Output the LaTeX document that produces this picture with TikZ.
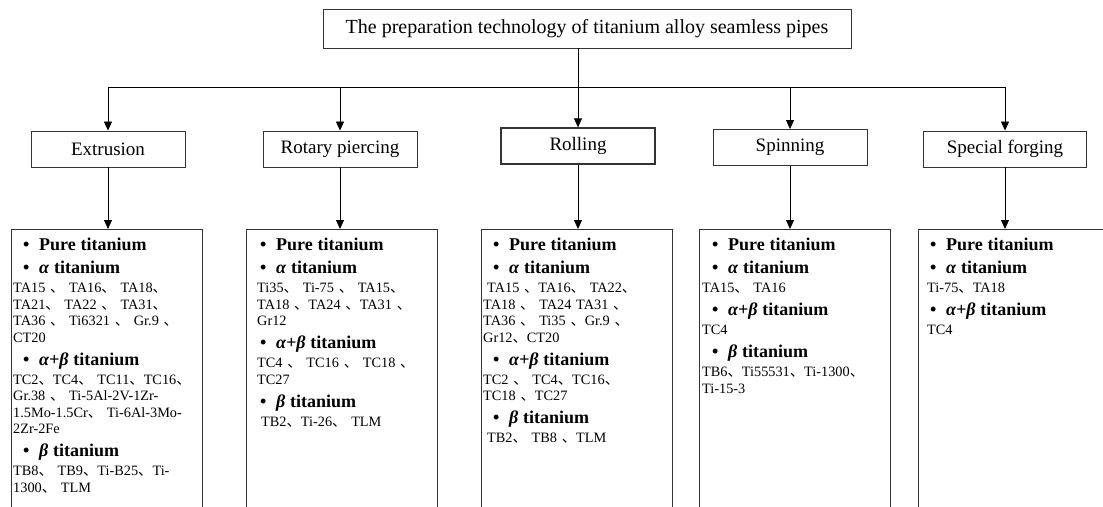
\documentclass[tikz,border=0pt]{standalone}
\usepackage{fontspec}
\setmainfont{Liberation Serif}
\newfontfamily\cjk{Noto Sans CJK SC}
\usetikzlibrary{arrows.meta, calc}

\newlength\hdind
\newcommand\dun{{\cjk 、}}
\newcommand\hd[2][2.5pt]{{\fontsize{18}{23}\selectfont\bfseries\hspace*{\hdind}\makebox[16pt][l]{\textbullet}#2\par}\vspace{#1}}
\newcommand\jl[1]{\makebox[\linewidth][s]{#1}\par}

\tikzset{
  x=1pt, y=-1pt,
  stage/.style={draw=black!80, line width=0.9pt, minimum width=154pt, minimum height=36pt, inner sep=0pt, font=\fontsize{19}{19}\selectfont},
  listbox/.style={draw=black!80, line width=0.9pt, minimum width=191pt, minimum height=300pt, anchor=north, inner sep=0pt},
  listtext/.style={anchor=north west, inner sep=0pt, text width=180pt, align=left, font=\fontsize{14.3}{16.5}\selectfont\setlength\hdind{10pt}},
  arr/.style={-{Triangle[length=9pt,width=8pt]}, line width=0.8pt}
}

\begin{document}
\begin{tikzpicture}
  \clip (0,0) rectangle (1103,506);

  \node[draw=black!80, line width=0.9pt, minimum width=528pt, minimum height=39pt, inner sep=0pt, font=\fontsize{20}{20}\selectfont] at (587,28.5) (title) {The preparation technology of titanium alloy seamless pipes};

  \node[stage] at (108,149) (ext) {Extrusion};
  \node[stage] at (340,149) (rot) {Rotary piercing};
  \node[stage, line width=1.3pt] at (578,146) (roll) {Rolling};
  \node[stage] at (790,147.5) (spin) {Spinning};
  \node[stage, minimum width=163pt] at (1005,149) (forg) {Special forging};

  \coordinate (bus) at (0,87);
  \draw[arr] (title.south -| roll) -- (roll.north);
  \draw[line width=0.8pt] (bus -| ext) -- (bus -| forg);
  \foreach \n in {ext,rot,spin,forg}
    \draw[arr] (bus -| \n) -- (\n.north);

  \node[listbox] at (106.5,229) (ext-list) {};
  \node[listbox] at (341.5,229) (rot-list) {};
  \node[listbox] at (576.5,229) (roll-list) {};
  \node[listbox] at (795,229) (spin-list) {};
  \node[listbox] at (1013.5,229) (forg-list) {};
  \foreach \n in {ext,rot,roll,spin,forg}
    \draw[arr] (\n.south) -- (\n.south |- \n-list.north);

  % alloy grades
  \node[listtext] at (13,238) (ext-text) {%
    \hd[0pt]{Pure titanium}
    \hd{\textit{α} titanium}
    \jl{TA15 \dun{} TA16\dun{} TA18\dun}
    \jl{TA21\dun{} TA22 \dun{} TA31\dun}
    \jl{TA36 \dun{} Ti6321 \dun{} Gr.9 \dun}
    CT20\par
    \hd{\textit{α+β} titanium}
    \jl{TC2\dun TC4\dun{} TC11\dun TC16\dun}
    \jl{Gr.38 \dun{} Ti-5Al-2V-1Zr-}
    \jl{1.5Mo-1.5Cr\dun{} Ti-6Al-3Mo-}
    2Zr-2Fe\par
    \hd{\textit{β} titanium}
    \jl{TB8\dun{} TB9\dun Ti-B25\dun Ti-}
    1300\dun{} TLM\par};

  \node[listtext, text width=172pt] at (257,238) (rot-text) {%
    \setlength\hdind{3pt}%
    \hd[0pt]{Pure titanium}
    \hd{\textit{α} titanium}
    \jl{Ti35\dun{} Ti-75 \dun{} TA15\dun}
    \jl{TA18 \dun TA24 \dun TA31 \dun}
    Gr12\par
    \hd{\textit{α+β} titanium}
    \jl{TC4 \dun{} TC16 \dun{} TC18 \dun}
    TC27\par
    \hd{\textit{β} titanium}
    \hspace*{4pt}TB2\dun Ti-26\dun{} TLM\par};

  \node[listtext] at (483,238) (roll-text) {%
    \hd[0pt]{Pure titanium}
    \hd{\textit{α} titanium}
    \jl{\hspace*{4pt}TA15 \dun TA16\dun{} TA22\dun}
    \jl{TA18 \dun{} TA24 TA31 \dun}
    \jl{TA36 \dun{} Ti35 \dun Gr.9 \dun}
    Gr12\dun CT20\par
    \hd{\textit{α+β} titanium}
    TC2 \dun{} TC4\dun TC16\dun\par
    TC18 \dun TC27\par
    \hd{\textit{β} titanium}
    \hspace*{4pt}TB2\dun{} TB8 \dun TLM\par};

  \node[listtext] at (702,238) (spin-text) {%
    \hd[0pt]{Pure titanium}
    \hd{\textit{α} titanium}
    TA15\dun{} TA16\par
    \hd{\textit{α+β} titanium}
    TC4\par
    \hd{\textit{β} titanium}
    TB6\dun Ti55531\dun Ti-1300\dun\par
    Ti-15-3\par};

  \node[listtext] at (927,238) (forg-text) {%
    \setlength\hdind{3pt}%
    \hd[0pt]{Pure titanium}
    \hd{\textit{α} titanium}
    Ti-75\dun TA18\par
    \hd{\textit{α+β} titanium}
    TC4\par};
\end{tikzpicture}
\end{document}
